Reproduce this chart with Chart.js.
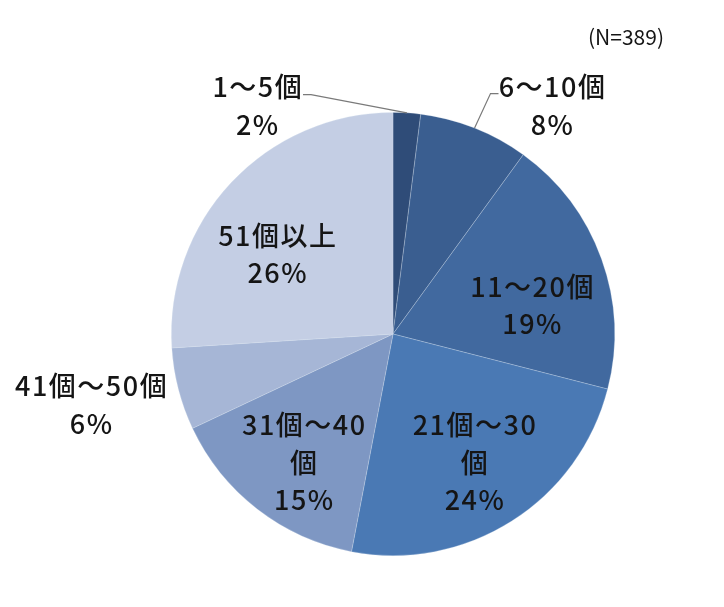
<!DOCTYPE html>
<html>
<head>
<meta charset="utf-8">
<script src="https://cdn.jsdelivr.net/npm/chart.js@4.4.1/dist/chart.umd.min.js"></script>
<style>
html,body{margin:0;padding:0;background:#fff;}
#wrap{width:724px;height:607px;position:relative;}
</style>
</head>
<body>
<div id="wrap"><canvas id="c" width="724" height="607"></canvas></div>
<script>
const categories = ["1～5個", "6～10個", "11～20個", "21個～30個", "31個～40個", "41個～50個", "51個以上"];
const labelLines = [["1～5個","2%"],["6～10個","8%"],["11～20個","19%"],["21個～30","個","24%"],["31個～40","個","15%"],["41個～50個","6%"],["51個以上","26%"]];
const values = [2, 8, 19, 24, 15, 6, 26];
const colors = ["#2f4c78", "#3a5e90", "#41699f", "#4a79b4", "#7e97c3", "#a6b6d6", "#c4cee4"];
const sampleNote = "(N=389)";
// label block centre offsets, in units of radius, relative to pie centre
const labelOffsets = [[-0.61,-1.03],[0.72,-1.03],[0.63,-0.13],[0.37,0.58],[-0.40,0.58],[-1.36,0.32],[-0.52,-0.36]];
const leaderSlices = {0:[-0.37,-1.08], 1:[0.44,-1.085]};

const FONT = '"Noto Sans CJK JP", "Noto Sans", sans-serif';

const labelPlugin = {
  id: 'labelPlugin',
  afterDatasetsDraw(chart) {
    const ctx = chart.ctx;
    const meta = chart.getDatasetMeta(0);
    const arc0 = meta.data[0];
    const cx = arc0.x, cy = arc0.y, r = arc0.outerRadius;
    ctx.save();
    // leader lines
    ctx.strokeStyle = '#7a7a7a';
    ctx.lineWidth = 1.2;
    Object.keys(leaderSlices).forEach(k => {
      const a = meta.data[k];
      const mid = (a.startAngle + a.endAngle) / 2;
      const px = cx + r * Math.cos(mid), py = cy + r * Math.sin(mid);
      const e = leaderSlices[k];
      const ex = cx + e[0] * r, ey = cy + e[1] * r;
      const hx = ex + (k == 0 ? -8 : 8);
      ctx.beginPath();
      ctx.moveTo(px, py);
      ctx.lineTo(ex, ey);
      ctx.lineTo(hx, ey);
      ctx.stroke();
    });
    // labels
    ctx.fillStyle = '#151515';
    ctx.textAlign = 'center';
    ctx.textBaseline = 'middle';
    ctx.font = '500 27px ' + FONT;
    ctx.letterSpacing = '1.5px';
    labelLines.forEach((lines, i) => {
      const o = labelOffsets[i];
      const bx = cx + o[0] * r, by = cy + o[1] * r;
      const lh = 37.5;
      const top = by - (lines.length - 1) * lh / 2;
      lines.forEach((t, j) => ctx.fillText(t, bx, top + j * lh));
    });
    ctx.letterSpacing = '0px';
    ctx.font = '21px ' + FONT;
    ctx.fillText(sampleNote, 626, 37);
    ctx.restore();
  }
};

new Chart(document.getElementById('c'), {
  type: 'pie',
  data: {
    labels: categories,
    datasets: [{
      data: values,
      backgroundColor: colors,
      borderColor: 'rgba(220,228,240,0.35)',
      borderWidth: 0.8
    }]
  },
  options: {
    responsive: false,
    animation: false,
    layout: { padding: { left: 171, right: 109, top: 112, bottom: 51 } },
    plugins: { legend: { display: false }, tooltip: { enabled: false }, title: { display: false } }
  },
  plugins: [labelPlugin]
});
</script>
</body>
</html>
